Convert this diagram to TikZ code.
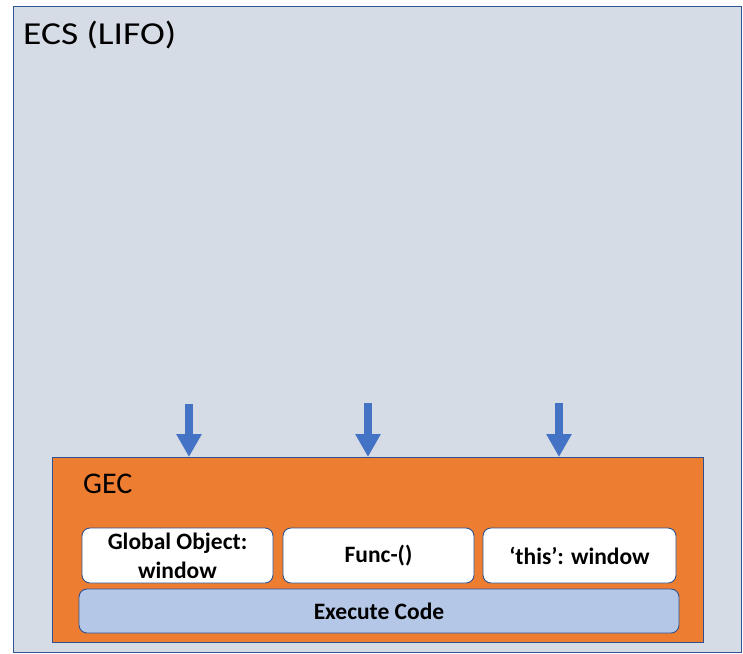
\documentclass[tikz,border=0pt]{standalone}
\usepackage{fontspec}
\setmainfont{Carlito}
\usetikzlibrary{arrows.meta}
\definecolor{ecsfill}{HTML}{D6DCE5}
\definecolor{ecsline}{HTML}{2F5597}
\definecolor{gecfill}{HTML}{ED7D31}
\definecolor{boxline}{HTML}{2F528F}
\definecolor{execfill}{HTML}{B4C7E7}
\definecolor{arrowblue}{HTML}{4472C4}
\tikzset{
  whitebox/.style={draw=boxline, line width=0.9pt, fill=white, rounded corners=8pt,
    minimum width=191pt, minimum height=55pt, inner sep=0pt, align=center,
    font=\fontsize{23.5}{29}\selectfont\bfseries},
  execbox/.style={draw=boxline, line width=0.9pt, fill=execfill, rounded corners=8pt,
    minimum width=600pt, minimum height=44pt, inner sep=0pt,
    font=\fontsize{23.5}{29}\selectfont\bfseries},
  downarrow/.style={arrowblue, line width=8pt, -{Triangle[width=24pt,length=23pt]}},
  title/.style={anchor=base west, inner sep=0pt}
}
\begin{document}
\begin{tikzpicture}[x=1pt,y=-1pt]
\useasboundingbox (0,0) rectangle (743,653);
\node[draw=ecsline, line width=1pt, fill=ecsfill, minimum width=728pt, minimum height=646pt, inner sep=0pt, anchor=north west] (ecs) at (13,6) {};
\node[title, font=\fontsize{32}{38}\selectfont] (ecst) at (23,44) {\scalebox{1.17}[1]{ECS (LIFO)}};
\node[draw=boxline, line width=1pt, fill=gecfill, minimum width=651pt, minimum height=185pt, inner sep=0pt, anchor=north west] (gec) at (52,457) {};
\node[title, font=\fontsize{30}{36}\selectfont] (gect) at (83,493) {GEC};
\node[whitebox] (glob) at (177.5,555.5) {Global Object:\\window};
\node[whitebox] (func) at (378.5,555.5) {Func-()};
\node[whitebox, minimum width=193pt] (this) at (579.5,555.5) {‘this’: window};
\node[execbox] (exec) at (379,611) {Execute Code};
\coordinate (a1) at (189,404);
\coordinate (a2) at (368,403);
\coordinate (a3) at (559,403);
\draw[downarrow] (a1) -- (a1 |- gec.north);
\draw[downarrow] (a2) -- (a2 |- gec.north);
\draw[downarrow] (a3) -- (a3 |- gec.north);
\end{tikzpicture}
\end{document}
